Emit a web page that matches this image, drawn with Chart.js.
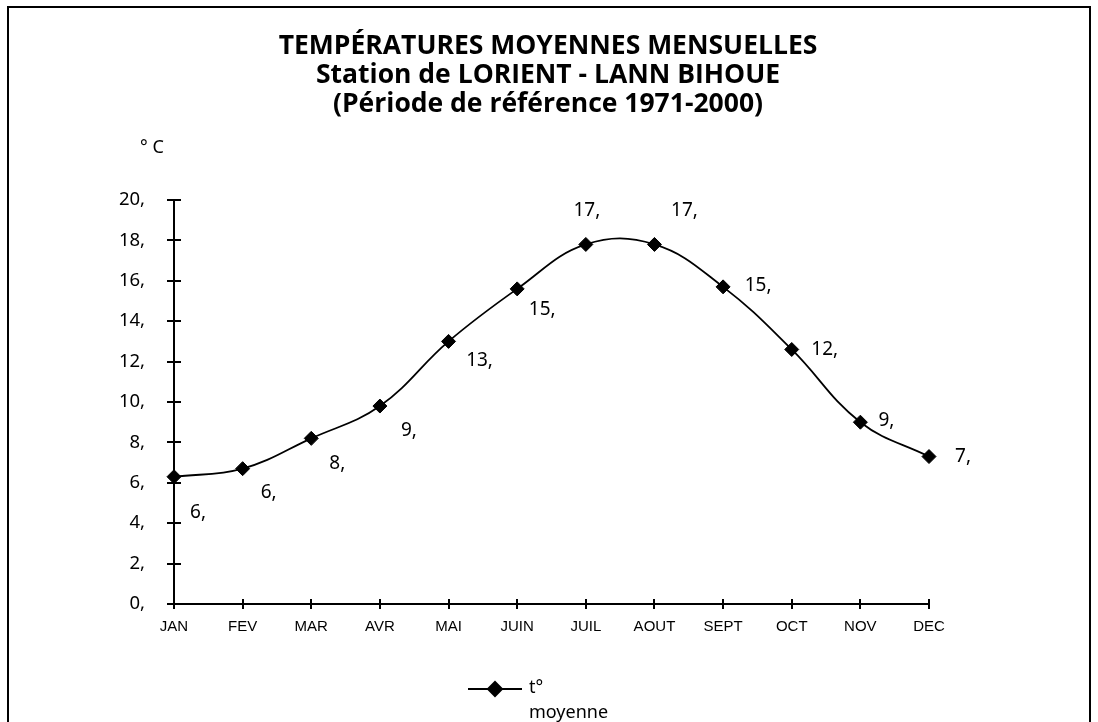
<!DOCTYPE html>
<html>
<head>
<meta charset="utf-8">
<script src="https://cdn.jsdelivr.net/npm/chart.js@4/dist/chart.umd.min.js"></script>
<style>
  html, body { margin: 0; padding: 0; background: #fff; }
  #wrap { width: 1098px; height: 722px; }
</style>
</head>
<body>
<div id="wrap"><canvas id="myChart" width="1098" height="722"></canvas></div>
<script>
const months = ['JAN', 'FEV', 'MAR', 'AVR', 'MAI', 'JUIN', 'JUIL', 'AOUT', 'SEPT', 'OCT', 'NOV', 'DEC'];
const tempMoyenne = [6.3, 6.7, 8.2, 9.8, 13.0, 15.6, 17.8, 17.8, 15.7, 12.6, 9.0, 7.3];
const titleLines = ['TEMPÉRATURES MOYENNES MENSUELLES', 'Station de LORIENT - LANN BIHOUE', '(Période de référence 1971-2000)'];
const seriesName = ['t°', 'moyenne'];
const yTicks = [0, 20, 2];

// where each value label sits relative to its point (dx, dy)
const labelShift = [[24, 36], [26, 24], [26, 25], [29, 25], [31, 19], [25, 21],
                    [1, -34], [30, -34], [35, -1], [33, 0], [26, -2], [34, 0]];

const bodyFont = '"Noto Sans", "Open Sans", sans-serif';

const decorPlugin = {
    id: 'decor',
    beforeDraw(chart) {
        const ctx = chart.ctx;
        ctx.save();
        ctx.strokeStyle = '#000';
        ctx.lineWidth = 2;
        ctx.strokeRect(8, 7, 1082, 740);
        ctx.restore();
    },
    afterDatasetsDraw(chart) {
        const ctx = chart.ctx;
        const x = chart.scales.x, y = chart.scales.y;
        ctx.save();
        ctx.strokeStyle = '#000';
        ctx.lineWidth = 2;
        // cross ticks on both axes
        ctx.beginPath();
        y.ticks.forEach((t, i) => {
            const py = Math.round(y.getPixelForTick(i));
            ctx.moveTo(x.left - 7, py);
            ctx.lineTo(x.left + 7, py);
        });
        x.ticks.forEach((t, i) => {
            const px = Math.round(x.getPixelForTick(i));
            ctx.moveTo(px, y.bottom - 5);
            ctx.lineTo(px, y.bottom + 5);
        });
        ctx.stroke();

        // title
        ctx.fillStyle = '#000';
        ctx.textAlign = 'center';
        ctx.textBaseline = 'middle';
        ctx.font = 'bold 26.5px "Open Sans", sans-serif';
        titleLines.forEach((t, i) => ctx.fillText(t, 548, 46 + i * 29));

        // unit
        ctx.font = '18px ' + bodyFont;
        ctx.fillText('° C', 152, 148);

        // value labels
        const meta = chart.getDatasetMeta(0);
        ctx.font = '19px ' + bodyFont;
        meta.data.forEach((pt, i) => {
            const s = labelShift[i];
            ctx.fillText(Math.floor(tempMoyenne[i]) + ',', pt.x + s[0], pt.y + s[1]);
        });

        // legend
        const lx = 468, ly = 689;
        ctx.beginPath();
        ctx.moveTo(lx, ly);
        ctx.lineTo(lx + 54, ly);
        ctx.stroke();
        Chart.helpers.drawPoint(ctx, {pointStyle: 'rectRot', radius: 7, rotation: 0, borderWidth: 1}, lx + 27, ly);
        ctx.textAlign = 'left';
        ctx.font = '18px ' + bodyFont;
        ctx.fillText(seriesName[0], 529, 688);
        ctx.fillText(seriesName[1], 529, 713);
        ctx.restore();
    }
};

const ctx = document.getElementById('myChart').getContext('2d');
const tempChart = new Chart(ctx, {
    type: 'line',
    data: {
        labels: months,
        datasets: [{
            label: seriesName.join(' '),
            data: tempMoyenne,
            borderColor: '#000',
            backgroundColor: '#000',
            borderWidth: 1.8,
            tension: 0.4,
            pointStyle: 'rectRot',
            pointRadius: 7,
            pointBorderWidth: 1,
            pointBackgroundColor: '#000',
            pointBorderColor: '#000'
        }]
    },
    options: {
        responsive: false,
        animation: false,
        events: [],
        layout: { padding: { top: 200, right: 169, left: 0, bottom: 0 } },
        plugins: { legend: { display: false }, tooltip: { enabled: false }, title: { display: false } },
        scales: {
            x: {
                offset: false,
                grid: { display: false, drawTicks: false },
                border: { display: true, color: '#000', width: 2 },
                ticks: {
                    color: '#000',
                    padding: 14,
                    maxRotation: 0,
                    autoSkip: false,
                    font: { family: '"Liberation Sans", Arial, sans-serif', size: 15 }
                },
                afterFit(scale) { scale.height = 118; }
            },
            y: {
                min: yTicks[0],
                max: yTicks[1],
                grid: { display: false, drawTicks: false },
                border: { display: true, color: '#000', width: 2 },
                ticks: {
                    stepSize: yTicks[2],
                    color: '#000',
                    padding: 29,
                    font: { family: '"Noto Sans", "Open Sans", sans-serif', size: 18.5 },
                    callback: v => v + ','
                },
                afterFit(scale) { scale.width = 174; }
            }
        }
    },
    plugins: [decorPlugin]
});
</script>
</body>
</html>
